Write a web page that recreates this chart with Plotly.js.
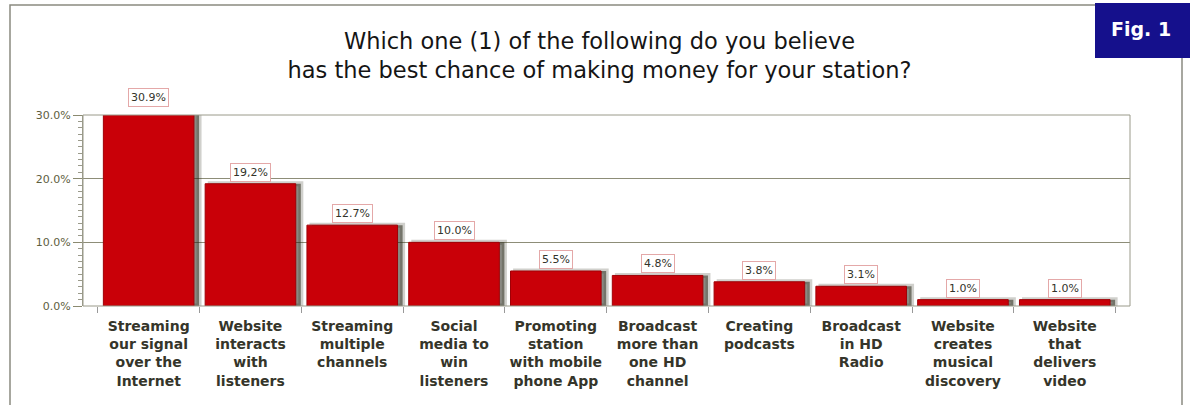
<!DOCTYPE html>
<html>
<head>
<meta charset="utf-8">
<script src="https://cdn.plot.ly/plotly-3.0.1.min.js"></script>
<style>html,body{margin:0;padding:0;background:#fff;}#chart{width:1199px;height:405px;}</style>
</head>
<body>
<div id="chart"></div>
<script>
const categories = [
  "Streaming<br>our signal<br>over the<br>Internet",
  "Website<br>interacts<br>with<br>listeners",
  "Streaming<br>multiple<br>channels",
  "Social<br>media to<br>win<br>listeners",
  "Promoting<br>station<br>with mobile<br>phone App",
  "Broadcast<br>more than<br>one HD<br>channel",
  "Creating<br>podcasts",
  "Broadcast<br>in HD<br>Radio",
  "Website<br>creates<br>musical<br>discovery",
  "Website<br>that<br>delivers<br>video"
];
const values = [30.9, 19.2, 12.7, 10.0, 5.5, 4.8, 3.8, 3.1, 1.0, 1.0];
const valueLabels = ["30.9%", "19,2%", "12.7%", "10.0%", "5.5%", "4.8%", "3.8%", "3.1%", "1.0%", "1.0%"];
const yTickVals = [0, 10, 20, 30];
const yTickText = ["0.0%", "10.0%", "20.0%", "30.0%"];
const titleText = "Which one (1) of the following do you believe<br>has the best chance of making money for your station?";
const figLabel = "Fig. 1";

// layout geometry (pixels)
const W = 1199, H = 405;
const M = {l: 83, r: 69, t: 90, b: 99};
const plotW = W - M.l - M.r, plotH = H - M.t - M.b;
const mainTopPx = 115;
const mainDomTop = (H - M.b - mainTopPx) / plotH;
const px = x => (x - M.l) / plotW;
const py = y => (H - M.b - y) / plotH;

const barWidth = 0.89;
const shadow = {
  type: 'bar', x: categories, y: values,
  width: barWidth, offset: -barWidth / 2 + 0.05,
  marker: {color: 'rgba(40,40,25,0.55)', line: {color: 'rgba(40,40,25,0.22)', width: 5}},
  hoverinfo: 'skip', showlegend: false
};
const bars = {
  type: 'bar', x: categories, y: values,
  width: barWidth, offset: -barWidth / 2,
  marker: {color: '#c90008', line: {color: '#a00006', width: 1}},
  showlegend: false
};
const anchorTrace = {
  type: 'scatter', mode: 'markers', x: categories, y: values,
  yaxis: 'y2', marker: {size: 1, opacity: 0}, hoverinfo: 'skip', showlegend: false
};

const annotations = values.map((v, i) => ({
  xref: 'x', yref: 'y2', x: categories[i], y: v,
  text: valueLabels[i], showarrow: false, xanchor: 'center', yanchor: 'bottom', yshift: 2,
  font: {family: 'DejaVu Sans', size: 11, color: '#33332a'},
  bgcolor: '#ffffff', bordercolor: '#e4a8a8', borderwidth: 1, borderpad: 2
}));
annotations.push({
  xref: 'paper', yref: 'paper', x: px(1141), y: py(29),
  xanchor: 'center', yanchor: 'middle',
  text: '<b>' + figLabel + '</b>', showarrow: false,
  font: {family: 'DejaVu Sans', size: 19, color: '#ffffff'}
});

const shapes = [
  {type: 'rect', xref: 'x domain', yref: 'y domain', x0: 0, x1: 1, y0: 0, y1: 1,
   line: {color: '#9a9a8a', width: 1}, layer: 'above'},
  {type: 'path', xref: 'paper', yref: 'paper',
   path: `M${px(10)},${py(406)} L${px(10)},${py(5)} L${px(1095)},${py(5)}`,
   line: {color: '#8a8a80', width: 1.5}},
  {type: 'line', xref: 'paper', yref: 'paper', x0: px(1182), x1: px(1182), y0: py(58), y1: py(406),
   line: {color: '#8a8a80', width: 1.5}},
  {type: 'rect', xref: 'paper', yref: 'paper', x0: px(1095), x1: px(1190), y0: py(58), y1: py(3),
   fillcolor: '#15108c', line: {width: 0}}
];

const layout = {
  width: W, height: H,
  margin: M,
  paper_bgcolor: '#ffffff', plot_bgcolor: 'rgba(0,0,0,0)',
  barmode: 'overlay',
  title: {
    text: titleText, x: 0.5, xref: 'container', y: 1 - 49 / H, yref: 'container', yanchor: 'middle',
    font: {family: 'DejaVu Sans', size: 22.5, color: '#151515'}
  },
  xaxis: {
    type: 'category', range: [-0.645, 9.641],
    tickson: 'boundaries', ticks: 'outside', ticklen: 6, tickcolor: '#999',
    showgrid: false, showline: false, zeroline: false,
    tickfont: {family: 'DejaVu Sans', size: 14, color: '#35352a', weight: 'bold'},
    ticklabelstandoff: 10
  },
  yaxis: {
    domain: [0, mainDomTop], range: [0, 30],
    tickvals: yTickVals, ticktext: yTickText,
    ticks: 'outside', ticklen: 9, tickcolor: '#8a8a70',
    showgrid: true, gridcolor: '#8d8d78', gridwidth: 1,
    showline: true, linecolor: '#9a9a8a', zeroline: false,
    tickfont: {family: 'DejaVu Sans', size: 11, color: '#5e5e3e'},
    minor: {dtick: 1, ticks: 'outside', ticklen: 4, tickcolor: '#9a9a8a', showgrid: false}
  },
  yaxis2: {
    domain: [0, 1], range: [0, 30 / mainDomTop], anchor: 'x', visible: false
  },
  annotations: annotations,
  shapes: shapes
};

Plotly.newPlot('chart', [shadow, bars, anchorTrace], layout, {staticPlot: true});
</script>
</body>
</html>
